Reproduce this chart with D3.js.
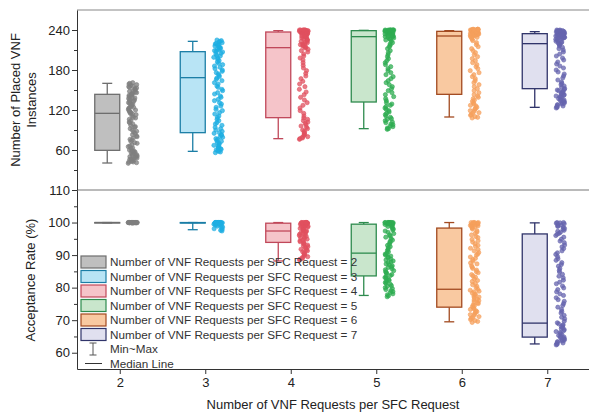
<!DOCTYPE html>
<html>
<head>
<meta charset="utf-8">
<script src="https://cdn.jsdelivr.net/npm/d3@7"></script>
<style>
  body { margin: 0; background: #fff; }
  svg { font-family: "Liberation Sans", Arial, sans-serif; }
</style>
</head>
<body>
<div id="chart"></div>
<script>
// x categories: number of VNF requests per SFC request
const categories = [2, 3, 4, 5, 6, 7];

// top panel: number of placed VNF instances (box stats)
const placedMin = [40.5, 58, 77, 92, 109.5, 124];
const placedQ1 = [59.5, 86, 108.5, 132, 143.5, 152];
const placedMedian = [115, 168.5, 213.5, 230, 231, 219.5];
const placedQ3 = [143.5, 207.5, 237, 239, 238, 234.5];
const placedMax = [160, 223, 239, 239.5, 239, 237.5];

// top panel: individual runs
const placedSamples = [
  [40, 41, 42, 42, 43, 44, 45, 46, 46, 47, 48, 49, 50, 51, 51, 52, 53, 54, 55, 56, 57, 57, 58, 59, 60, 62, 63, 65, 66, 68,
   70, 71, 73, 75, 76, 78, 80, 81, 83, 85, 87, 88, 90, 92, 94, 95, 97, 99, 101, 102, 104, 106, 108, 109, 111, 113, 114, 115, 116, 117,
   118, 119, 120, 121, 122, 123, 124, 125, 126, 127, 128, 129, 130, 131, 132, 133, 134, 135, 136, 137, 138, 139, 140, 141, 142, 143,
   144, 144, 145, 146, 147, 148, 149, 150, 151, 152, 153, 154, 155, 156, 157, 158, 159, 160, 161],
  [56, 57, 58, 59, 60, 61, 62, 63, 64, 66, 67, 68, 70, 71, 73, 74, 76, 77, 79, 80, 82, 83, 85, 86, 88, 90, 92, 94, 97, 99,
   101, 104, 106, 109, 111, 114, 116, 119, 121, 124, 126, 129, 131, 134, 136, 139, 141, 144, 146, 149, 151, 154, 156, 159, 161, 164,
   166, 168, 170, 172, 174, 176, 178, 180, 182, 184, 186, 188, 190, 192, 194, 196, 198, 199, 201, 202, 204, 205, 207, 208, 209, 210,
   211, 212, 213, 214, 215, 216, 217, 218, 219, 220, 221, 222, 223, 224, 225],
  [76, 77, 78, 79, 80, 82, 83, 85, 86, 88, 90, 92, 94, 96, 98, 100, 102, 104, 106, 108, 111, 115, 119, 123, 127, 131, 135, 139, 143, 147,
   151, 155, 159, 163, 167, 171, 175, 179, 183, 187, 191, 195, 198, 201, 204, 207, 209, 211, 213, 214, 215, 216, 217, 218, 219, 220,
   221, 222, 223, 224, 225, 226, 227, 228, 229, 230, 230, 231, 231, 232, 232, 233, 233, 234, 234, 235, 235, 236, 236, 236, 237, 237,
   237, 238, 238, 238, 238, 239, 239, 239, 239, 239, 240, 240, 240, 240, 240, 240],
  [91, 92, 93, 95, 96, 98, 99, 101, 102, 104, 106, 107, 109, 111, 113, 115, 117, 119, 121, 123, 125, 127, 129, 131, 134, 137, 140, 143,
   146, 149, 152, 155, 158, 161, 164, 167, 170, 173, 176, 179, 182, 185, 188, 191, 194, 197, 200, 203, 206, 209, 212, 215, 217, 219,
   221, 223, 225, 226, 227, 228, 229, 230, 230, 231, 231, 232, 232, 233, 233, 234, 234, 235, 235, 235, 236, 236, 236, 237, 237, 237,
   238, 238, 238, 238, 239, 239, 239, 239, 239, 239, 240, 240, 240, 240, 240, 240, 240, 240],
  [108, 109, 110, 112, 113, 115, 116, 118, 119, 121, 122, 124, 126, 127, 129, 131, 133, 135, 137, 139, 141, 143, 146, 149, 152, 155,
   158, 161, 164, 167, 170, 173, 176, 179, 182, 185, 188, 191, 194, 197, 200, 203, 206, 209, 212, 215, 218, 221, 224, 226, 228, 229,
   230, 231, 231, 232, 232, 233, 233, 234, 234, 235, 235, 235, 236, 236, 236, 237, 237, 237, 238, 238, 238, 238, 239, 239, 239, 239,
   239, 240, 240, 240, 240, 240, 240, 241, 241, 241, 241, 241, 241],
  [123, 124, 125, 126, 127, 128, 129, 130, 131, 132, 133, 134, 135, 136, 137, 138, 139, 140, 141, 142, 143, 144, 145, 146, 147, 148,
   149, 150, 151, 152, 154, 156, 158, 160, 162, 165, 168, 171, 174, 177, 180, 183, 186, 189, 192, 195, 198, 201, 204, 207, 210, 212,
   214, 216, 218, 219, 220, 221, 222, 223, 224, 225, 226, 227, 227, 228, 228, 229, 229, 230, 230, 231, 231, 232, 232, 233, 233, 234,
   234, 235, 235, 235, 236, 236, 236, 237, 237, 237, 238, 238, 238, 239, 239, 239, 240, 240],
];

// bottom panel: acceptance rate (%) box stats
const rateMin = [99.9, 97.8, 88.2, 77.6, 69.5, 62.7];
const rateQ1 = [99.95, 99.85, 93.9, 83.6, 74, 64.8];
const rateMedian = [100, 99.95, 97.4, 90.6, 79.5, 69.1];
const rateQ3 = [100, 100, 99.8, 99.5, 98.3, 96.5];
const rateMax = [100, 100, 100, 100, 100, 99.9];

const rateSamples = [
  [100, 99.9, 100, 100, 99.95, 100, 99.9, 100, 100, 99.95, 100, 100, 99.9, 100, 99.95, 100, 100, 99.9, 100, 100,
   100, 99.95, 100, 99.9, 100, 100, 99.95, 100, 100, 100],
  [100, 100, 100, 99.9, 100, 99.8, 100, 99.7, 100, 99.9, 99.5, 100, 99.3, 100, 99.1, 99.8, 98.9, 100, 98.6, 99.6,
   98.4, 100, 98.1, 99.9, 97.9, 99.4, 97.6, 100, 97.4, 99.2, 100, 99.9, 100, 99.7, 100, 99.8, 100, 99.9, 100, 100],
  [88.5, 88.7, 89.0, 89.2, 89.5, 89.8, 90.0, 90.3, 90.5, 90.8, 91.0, 91.3, 91.6, 91.8, 92.1, 92.3, 92.6, 92.9, 93.1, 93.4,
   93.6, 93.9, 94.1, 94.4, 94.6, 94.9, 95.1, 95.3, 95.6, 95.8, 96.0, 96.2, 96.4, 96.6, 96.8, 97.0, 97.2, 97.4, 97.5, 97.7,
   97.9, 98.0, 98.2, 98.3, 98.5, 98.6, 98.8, 98.9, 99.0, 99.1, 99.2, 99.3, 99.4, 99.5, 99.6, 99.6, 99.7, 99.7, 99.8, 99.8,
   99.9, 99.9, 99.9, 100, 100, 100, 100, 100, 100, 100],
  [77.2, 77.5, 77.8, 78.1, 78.5, 78.8, 79.1, 79.4, 79.7, 80.0, 80.4, 80.6, 81.0, 81.3, 81.6, 81.9, 82.2, 82.5, 82.9, 83.1,
   83.4, 83.7, 84.0, 84.4, 84.6, 84.9, 85.2, 85.5, 85.8, 86.2, 86.4, 86.7, 87.0, 87.3, 87.7, 87.9, 88.2, 88.5, 88.8, 89.2,
   89.4, 89.7, 90.0, 90.3, 90.6, 91.0, 91.4, 91.8, 92.3, 92.6, 93.0, 93.4, 93.9, 94.2, 94.6, 95.0, 95.5, 95.8, 96.2, 96.6,
   97.0, 97.4, 97.7, 98.0, 98.3, 98.6, 98.8, 99.0, 99.2, 99.3, 99.4, 99.5, 99.6, 99.7, 99.7, 99.8, 99.8, 99.9, 99.9, 99.9,
   100, 100, 100, 100, 100, 100, 100, 100, 100, 100],
  [69.3, 69.6, 69.9, 70.2, 70.6, 70.8, 71.1, 71.5, 71.7, 72.0, 72.4, 72.6, 72.9, 73.3, 73.5, 73.8, 74.2, 74.4, 74.7, 75.1,
   75.3, 75.6, 76.0, 76.2, 76.5, 76.9, 77.1, 77.4, 77.8, 78.0, 78.3, 78.7, 78.9, 79.2, 79.5, 80.0, 80.4, 80.9, 81.3, 81.9,
   82.2, 82.7, 83.2, 83.6, 84.0, 84.6, 84.9, 85.4, 85.9, 86.3, 86.7, 87.3, 87.6, 88.1, 88.6, 89.0, 89.4, 90.0, 90.3, 90.8,
   91.3, 91.7, 92.1, 92.7, 93.0, 93.5, 94.0, 94.4, 94.8, 95.4, 95.7, 96.2, 96.7, 97.1, 97.5, 98.0, 98.3, 98.5, 98.7, 98.9,
   99.0, 99.1, 99.2, 99.3, 99.4, 99.5, 99.6, 99.7, 99.8, 99.9, 100, 100, 100, 100],
  [62.4, 62.6, 62.8, 63.0, 63.2, 63.4, 63.6, 63.8, 64.0, 64.2, 64.4, 64.6, 64.8, 65.0, 65.3, 65.6, 65.9, 66.2, 66.5, 66.8,
   67.1, 67.4, 67.7, 68.0, 68.3, 68.6, 68.9, 69.2, 69.7, 70.4, 70.9, 71.5, 72.2, 72.7, 73.3, 74.0, 74.5, 75.1, 75.8, 76.3,
   76.9, 77.6, 78.1, 78.7, 79.4, 79.9, 80.5, 81.2, 81.7, 82.3, 83.0, 83.5, 84.1, 84.8, 85.3, 85.9, 86.6, 87.1, 87.7, 88.4,
   88.9, 89.5, 90.2, 90.7, 91.3, 92.0, 92.5, 93.1, 93.8, 94.3, 94.9, 95.5, 96.0, 96.4, 96.7, 97.0, 97.3, 97.6, 97.9, 98.2,
   98.5, 98.8, 99.0, 99.2, 99.4, 99.6, 99.8, 99.9, 100, 100],
];

// styles per category
const boxFill = ['#bfbfbf', '#b8e4f5', '#f5c4c9', '#c9e6cc', '#f9c9a1', '#e0e0ef'];
const boxStroke = ['#6e6e6e', '#1b7ea6', '#c0485a', '#2e8b4e', '#a24a20', '#30346a'];
const dotColor = ['#7f7f7f', '#1eaee2', '#e0505f', '#2fac52', '#f5a05c', '#6664ae'];

const width = 589;
const height = 415;

const svg = d3.select('#chart').append('svg')
    .attr('width', width)
    .attr('height', height);

const xScale = d3.scaleLinear()
    .domain([1.5, 7.5])
    .range([77, 590]);

// deterministic horizontal jitter in [-0.5, 0.5)
const jitter = (i, j) => {
  const s = Math.sin(j * 12.9898 + i * 78.233) * 43758.5453;
  return s - Math.floor(s) - 0.5;
};

class BoxJitterPanel {
  constructor(_config, _data) {
    this.config = {
      parent: _config.parent,
      top: _config.top,
      bottom: _config.bottom,
      yDomain: _config.yDomain,
      majorTicks: _config.majorTicks,
      minorTicks: _config.minorTicks,
    };
    this.data = _data;
    this.initVis();
  }

  initVis() {
    const vis = this;

    vis.yScale = d3.scaleLinear()
        .domain(vis.config.yDomain)
        .range([vis.config.bottom, vis.config.top]);

    vis.chart = vis.config.parent.append('g');

    vis.yAxis = d3.axisLeft(vis.yScale)
        .tickValues(vis.config.majorTicks)
        .tickSize(5)
        .tickSizeOuter(0)
        .tickPadding(2);

    vis.yMinor = d3.axisLeft(vis.yScale)
        .tickValues(vis.config.minorTicks)
        .tickSize(3)
        .tickSizeOuter(0)
        .tickFormat('');

    vis.marks = vis.chart.append('g');
    vis.yAxisG = vis.chart.append('g')
        .attr('class', 'axis')
        .attr('transform', `translate(${xScale.range()[0]},0)`);
    vis.yMinorG = vis.chart.append('g')
        .attr('transform', `translate(${xScale.range()[0]},0)`);

    vis.updateVis();
  }

  updateVis() {
    const vis = this;
    const d = vis.data;

    vis.boxes = categories.map((c, i) => ({
      cat: c, i: i,
      min: d.min[i], q1: d.q1[i], median: d.median[i], q3: d.q3[i], max: d.max[i],
    }));

    vis.points = [];
    d.samples.forEach((vals, i) => {
      vals.forEach((v, j) => {
        vis.points.push({ cat: categories[i], i: i, value: v, j: j });
      });
    });

    vis.renderVis();
  }

  renderVis() {
    const vis = this;
    const y = vis.yScale;
    const boxW = 25;
    const capW = 10;

    const g = vis.marks.selectAll('.box')
        .data(vis.boxes)
        .join('g')
        .attr('class', 'box')
        .attr('stroke', b => boxStroke[b.i])
        .attr('stroke-width', 1.3);

    const cx = b => xScale(b.cat) - boxW / 2;

    // whiskers
    g.append('line')
        .attr('x1', cx).attr('x2', cx)
        .attr('y1', b => y(b.max)).attr('y2', b => y(b.q3));
    g.append('line')
        .attr('x1', cx).attr('x2', cx)
        .attr('y1', b => y(b.q1)).attr('y2', b => y(b.min));
    g.append('line')
        .attr('x1', b => cx(b) - capW / 2).attr('x2', b => cx(b) + capW / 2)
        .attr('y1', b => y(b.max)).attr('y2', b => y(b.max));
    g.append('line')
        .attr('x1', b => cx(b) - capW / 2).attr('x2', b => cx(b) + capW / 2)
        .attr('y1', b => y(b.min)).attr('y2', b => y(b.min));

    // box + median
    g.append('rect')
        .attr('x', b => xScale(b.cat) - boxW)
        .attr('width', boxW)
        .attr('y', b => y(b.q3))
        .attr('height', b => Math.max(0.5, y(b.q1) - y(b.q3)))
        .attr('fill', b => boxFill[b.i]);
    g.append('line')
        .attr('x1', b => xScale(b.cat) - boxW).attr('x2', b => xScale(b.cat))
        .attr('y1', b => y(b.median)).attr('y2', b => y(b.median));

    // jittered runs
    vis.marks.selectAll('.dot')
        .data(vis.points)
        .join('circle')
        .attr('class', 'dot')
        .attr('cx', p => xScale(p.cat) + 13 + jitter(p.i, p.j) * 9)
        .attr('cy', p => y(p.value))
        .attr('r', 2.1)
        .attr('fill', p => dotColor[p.i])
        .attr('fill-opacity', 0.75)
        .attr('stroke', p => dotColor[p.i])
        .attr('stroke-width', 0.6);

    vis.yAxisG.call(vis.yAxis);
    vis.yMinorG.call(vis.yMinor);
    vis.yMinorG.select('.domain').remove();
    vis.chart.selectAll('.tick text')
        .attr('font-size', 13)
        .attr('fill', '#222');
    vis.chart.selectAll('.domain, .tick line').attr('stroke', '#333');
  }
}

// frame lines
svg.append('line')
    .attr('x1', xScale.range()[0]).attr('x2', width)
    .attr('y1', 10).attr('y2', 10)
    .attr('stroke', '#888').attr('stroke-width', 1.2);
svg.append('line')
    .attr('x1', xScale.range()[0]).attr('x2', width)
    .attr('y1', 190).attr('y2', 190)
    .attr('stroke', '#777').attr('stroke-width', 1.2);

const topPanel = new BoxJitterPanel({
  parent: svg, top: 10, bottom: 190, yDomain: [0, 270],
  majorTicks: [60, 120, 180, 240], minorTicks: [30, 90, 150, 210],
}, { min: placedMin, q1: placedQ1, median: placedMedian, q3: placedQ3, max: placedMax, samples: placedSamples });

const bottomPanel = new BoxJitterPanel({
  parent: svg, top: 190, bottom: 369, yDomain: [55, 110],
  majorTicks: [60, 70, 80, 90, 100, 110], minorTicks: [65, 75, 85, 95, 105],
}, { min: rateMin, q1: rateQ1, median: rateMedian, q3: rateQ3, max: rateMax, samples: rateSamples });

// x axis
const xAxis = d3.axisBottom(xScale)
    .tickValues(categories)
    .tickFormat(d3.format('d'))
    .tickSize(5)
    .tickSizeOuter(0)
    .tickPadding(4);
const xAxisG = svg.append('g')
    .attr('transform', 'translate(0,369)')
    .call(xAxis);
xAxisG.selectAll('.tick text').attr('font-size', 13).attr('fill', '#222');
xAxisG.selectAll('.domain, .tick line').attr('stroke', '#333');

// axis titles
svg.append('text')
    .attr('x', 333).attr('y', 409)
    .attr('text-anchor', 'middle')
    .attr('font-size', 13).attr('fill', '#222')
    .text('Number of VNF Requests per SFC Request');

const yTitleTop = svg.append('text')
    .attr('transform', 'translate(20,100) rotate(-90)')
    .attr('text-anchor', 'middle')
    .attr('font-size', 13).attr('fill', '#222');
yTitleTop.append('tspan').attr('x', 0).attr('y', 0).text('Number of Placed VNF');
yTitleTop.append('tspan').attr('x', 0).attr('y', 16).text('Instances');

svg.append('text')
    .attr('transform', 'translate(35,280) rotate(-90)')
    .attr('text-anchor', 'middle')
    .attr('font-size', 13).attr('fill', '#222')
    .text('Acceptance Rate (%)');

// legend
const legend = svg.append('g').attr('transform', 'translate(81,262)');
const rowH = 14.5;

const rows = legend.selectAll('.leg')
    .data(categories)
    .join('g')
    .attr('class', 'leg')
    .attr('transform', (c, i) => `translate(0,${i * rowH})`);
rows.append('rect')
    .attr('x', 0).attr('y', -6)
    .attr('width', 25).attr('height', 12)
    .attr('fill', (c, i) => boxFill[i])
    .attr('stroke', (c, i) => boxStroke[i])
    .attr('stroke-width', 1.2);
rows.append('text')
    .attr('x', 29).attr('dy', '0.35em')
    .attr('font-size', 11.7).attr('fill', '#333')
    .text(c => `Number of VNF Requests per SFC Request = ${c}`);

const mm = legend.append('g')
    .attr('transform', `translate(0,${6 * rowH})`)
    .attr('stroke', '#555').attr('stroke-width', 1);
mm.append('line').attr('x1', 12).attr('x2', 12).attr('y1', -6).attr('y2', 6);
mm.append('line').attr('x1', 8.5).attr('x2', 15.5).attr('y1', -6).attr('y2', -6);
mm.append('line').attr('x1', 8.5).attr('x2', 15.5).attr('y1', 6).attr('y2', 6);
legend.append('text')
    .attr('x', 29).attr('y', 6 * rowH).attr('dy', '0.35em')
    .attr('font-size', 11.7).attr('fill', '#333')
    .text('Min~Max');

legend.append('line')
    .attr('x1', 4).attr('x2', 21)
    .attr('y1', 7 * rowH).attr('y2', 7 * rowH)
    .attr('stroke', '#333').attr('stroke-width', 1);
legend.append('text')
    .attr('x', 29).attr('y', 7 * rowH).attr('dy', '0.35em')
    .attr('font-size', 11.7).attr('fill', '#333')
    .text('Median Line');
</script>
</body>
</html>
